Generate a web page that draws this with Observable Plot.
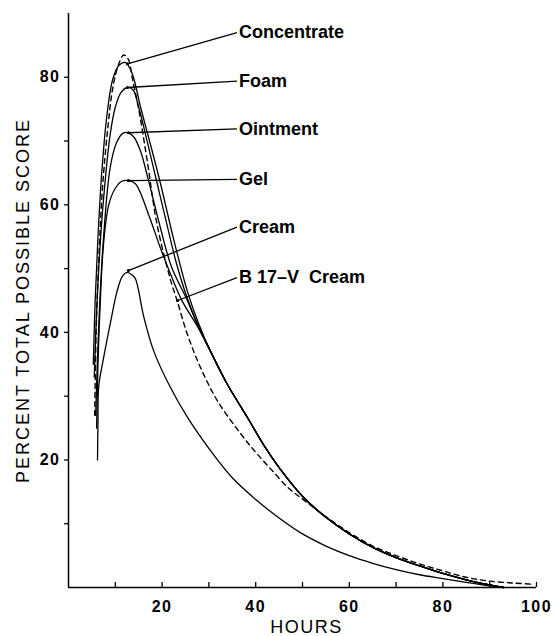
<!DOCTYPE html>
<html><head><meta charset="utf-8">
<script src="https://cdn.jsdelivr.net/npm/d3@7"></script>
<script src="https://cdn.jsdelivr.net/npm/@observablehq/plot@0.6"></script>
<style>
html,body{margin:0;padding:0;background:#fff;}
svg text{white-space:pre;}
</style></head><body><div id="chart"></div>
<script>
// ---- axis ticks ----
const hourTicks = [10, 20, 30, 40, 50, 60, 70, 80, 90, 100];
const hourLabels = [20, 40, 60, 80, 100];
const scoreTicks = [10, 20, 30, 40, 50, 60, 70, 80];
const scoreLabels = [20, 40, 60, 80];

// ---- series values: [hours, percent score] ----
const commonTail = [[30.3,37.1],[33.9,31.9],[38.2,26.7],[42,22],[45,18.8],[50,14.3],[55,11],[60,8.4],[65,6.3],[70,4.7],[75,3.4],[80,2.2],[85,1.2],[90,0.4],[93,0]];
const concentrate = [[5.3,35],[5.7,45],[6.3,55],[7.1,65],[8.2,74],[9.5,79.8],[10.8,81.9],[12.2,82.3],[13.6,80.6],[15.4,75.3],[17.5,69.5],[19.6,63.5],[22.5,54.5],[25.5,46.2],[27.8,41.4]];
const foam = [[5.5,33],[6,43],[6.7,53],[7.5,61],[8.9,71],[10,75.3],[11.2,77.6],[12.6,78.4],[13.8,78],[15,75.3],[16.8,70],[18.9,63.5],[21,57],[23,51],[25.4,45.3],[27.6,41.2]];
const ointment = [[5.8,27],[6.2,36],[6.7,45],[7.5,55],[8.9,65.8],[10.3,69.8],[11.6,71.2],[12.8,71.3],[14,70.6],[15.4,68.4],[17.1,63.8],[19.5,56.8],[22,50.3],[25.4,45],[27.5,41.3]];
const gel = [[6,25],[6.3,35],[6.8,45],[7.5,54],[8.6,60],[10,62.6],[11.4,63.7],[12.8,63.8],[14.3,63.3],[17.1,58.5],[19.6,53.3],[22.1,48.6],[24.3,44.9],[27.5,41]];
const cream = [[6.2,20],[6.3,26],[6.45,31.5],[7.5,36],[8.9,41.3],[10.4,46.5],[11.5,48.8],[12.5,49.4],[13.6,49],[14.3,48.4],[16.1,42.4],[18.2,37.1],[21.4,31.9],[25.4,26.7],[30.3,21.5],[35,17.2],[40,13.8],[45,10.9],[50,8.4],[55,6.5],[60,5],[65,3.8],[70,2.8],[75,2],[80,1.4],[85,0.8],[90,0.25],[93,0]];
const b17vCream = [[5.6,27],[5.9,40],[6.5,52],[7.3,63],[8.4,72],[9.5,78.5],[10.7,82],[11.8,83.5],[12.8,82.8],[13.6,80],[15,75],[16.8,67],[18.9,57],[21.7,48.5],[23.2,45],[25.4,39.7],[28.2,34.5],[31.8,29.3],[36.8,24.1],[40,21.2],[43.2,18.6],[47,15.6],[50.3,13.7],[55,11.1],[60,8.6],[65,6.5],[70,5],[75,3.7],[80,2.6],[85,1.6],[90,1],[95,0.7],[99.5,0.5]];

// ---- labels and what they point to ----
const labelNames = ["Concentrate", "Foam", "Ointment", "Gel", "Cream", "B 17\u2013V  Cream"];
const labelScore = [87, 79.4, 71.9, 64.0, 56.5, 48.6];
const labelHour = 36;
const targetHour = [12.6, 12.6, 12.8, 12.8, 12.8, 23.3];
const targetScore = [82.1, 78.4, 71.3, 63.8, 49.7, 45];

const seriesList = [
  ["Concentrate", concentrate.concat(commonTail), false],
  ["Foam", foam.concat(commonTail), false],
  ["Ointment", ointment.concat(commonTail), false],
  ["Gel", gel.concat(commonTail), false],
  ["Cream", cream, false],
  ["B 17-V Cream", b17vCream, true]
];
const rows = [];
for (const [name, pts, dashed] of seriesList)
  for (const [h, s] of pts) rows.push({series: name, hours: h, score: s, dashed});

const labels = labelNames.map((t, i) => ({text: t, x1: labelHour, y1: labelScore[i], x2: targetHour[i], y2: targetScore[i]}));

const chart = Plot.plot({
  width: 554,
  height: 636,
  marginLeft: 68,
  marginRight: 18,
  marginTop: 13,
  marginBottom: 49,
  style: {fontFamily: "Liberation Sans, Arial, sans-serif", background: "white", color: "black"},
  x: {domain: [0, 100], axis: null},
  y: {domain: [0, 90], axis: null},
  marks: [
    Plot.ruleY([0], {stroke: "black", strokeWidth: 1.5}),
    Plot.ruleX([0], {stroke: "black", strokeWidth: 1.5}),
    Plot.ruleX(hourTicks, {x: d => d, y1: 0, y2: 0.8, stroke: "black", strokeWidth: 1.3}),
    Plot.axisX({ticks: hourLabels, tickSize: 0, tickPadding: 13, fontSize: 16, fontWeight: "bold", label: null}),
    Plot.axisY({ticks: scoreTicks, tickSize: 4, tickPadding: 4, strokeWidth: 1.3, fontSize: 16, fontWeight: "bold", label: null,
      tickFormat: d => scoreLabels.includes(d) ? String(d) : ""}),
    Plot.line(rows.filter(d => !d.dashed), {x: "hours", y: "score", z: "series", curve: "catmull-rom", stroke: "black", strokeWidth: 1.3}),
    Plot.line(rows.filter(d => d.dashed), {x: "hours", y: "score", z: "series", curve: "catmull-rom", stroke: "black", strokeWidth: 1.4, strokeDasharray: "5,4"}),
    Plot.link(labels, {x1: "x1", y1: "y1", x2: "x2", y2: "y2", stroke: "black", strokeWidth: 1.3}),
    Plot.dot(labels, {x: "x2", y: "y2", r: 1.6, fill: "black"}),
    Plot.text(labels, {x: "x1", y: "y1", text: "text", textAnchor: "start", dx: 2, fontSize: 18, fontWeight: "bold"}),
    Plot.text(["HOURS"], {frameAnchor: "bottom", textAnchor: "middle", dy: 45, dx: 4, fontSize: 18, lineAnchor: "bottom"}),
    Plot.text(["PERCENT TOTAL POSSIBLE SCORE"], {frameAnchor: "left", textAnchor: "middle", rotate: -90, dx: -45, fontSize: 18})
  ]
});
document.getElementById("chart").appendChild(chart);
const svg = d3.select(chart);
svg.selectAll("text").each(function() {
  const t = this.textContent;
  if (/^\d+$/.test(t)) this.setAttribute("letter-spacing", "1.5px");
  if (t === "HOURS") this.setAttribute("letter-spacing", "1.5px");
  if (t.startsWith("PERCENT")) this.setAttribute("letter-spacing", "2px");
});
</script></body></html>
